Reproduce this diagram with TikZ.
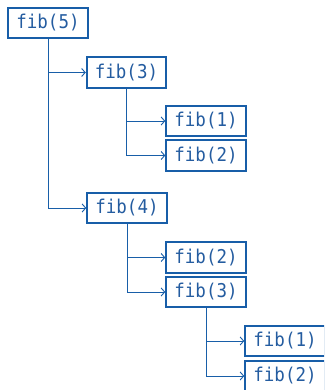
\documentclass[tikz,border=0pt]{standalone}
\usepackage{fontspec}
\setmonofont[FakeStretch=0.92]{DejaVu Sans Mono}
\usetikzlibrary{arrows.meta}
\definecolor{boxblue}{RGB}{24,94,168}
\definecolor{txtblue}{RGB}{36,92,160}
\begin{document}
\begin{tikzpicture}[x=1pt,y=-1pt,
  fnode/.style={draw=boxblue, line width=2pt, fill=white, text=txtblue,
    minimum width=79.5pt, minimum height=30.5pt, inner sep=0pt,
    font=\ttfamily\fontsize{19}{20}\selectfont},
  conn/.style={draw=boxblue, line width=0.9pt, -{Straight Barb[length=3.5pt,width=8pt]}}]
\useasboundingbox (0,0) rectangle (324,390);
\fill[white] (0,0) rectangle (324,390);
\clip (0,0) rectangle (324,390);
\node[fnode] (f5) at (48,23) {fib(5)};
\node[fnode] (f3) at (126.5,72.5) {fib(3)};
\node[fnode] (f1a) at (206,121) {fib(1)};
\node[fnode] (f2a) at (206,155.5) {fib(2)};
\node[fnode] (f4) at (127,208) {fib(4)};
\node[fnode] (f2b) at (206,257.5) {fib(2)};
\node[fnode] (f3b) at (206,292) {fib(3)};
\node[fnode] (f1c) at (285,341) {fib(1)};
\node[fnode] (f2c) at (285,376) {fib(2)};
\draw[conn] (f5.south) |- (f4.west);
\draw[conn] (f5.south |- f3.west) -- (f3.west);
\draw[conn] (f3.south) |- (f2a.west);
\draw[conn] (f3.south |- f1a.west) -- (f1a.west);
\draw[conn] (f4.south) |- (f3b.west);
\draw[conn] (f4.south |- f2b.west) -- (f2b.west);
\draw[conn] (f3b.south) |- (f2c.west);
\draw[conn] (f3b.south |- f1c.west) -- (f1c.west);
\end{tikzpicture}
\end{document}
